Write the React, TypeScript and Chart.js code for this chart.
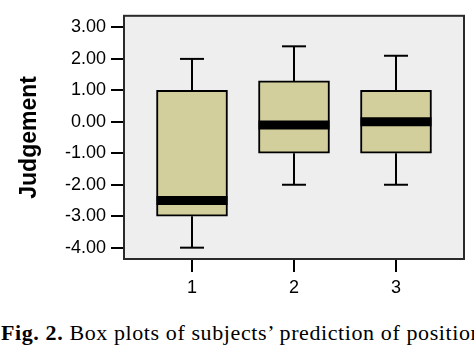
import React, { useEffect, useRef } from "react";
import { Chart, registerables } from "chart.js";

Chart.register(...registerables);

// ---- data ----
const categories = [1, 2, 3];
const whiskerLow = [-4.0, -2.0, -2.0];
const quartile1 = [-3.0, -1.0, -1.0];
const medians = [-2.5, -0.1, 0.0];
const quartile3 = [1.0, 1.3, 1.0];
const whiskerHigh = [2.0, 2.4, 2.1];
const yTicks = [-4, -3, -2, -1, 0, 1, 2, 3];
const yTitle = "Judgement";
const caption = "Box plots of subjects’ prediction of position";
const captionLead = "Fig. 2.";

// ---- styles ----
const BOX_FILL = "#d3cf9c";
const PLOT_BG = "#eeeeee";
const FRAME = "#2a2a2a";
const TICK_FONT = { family: "'Liberation Sans', Arial, sans-serif", size: 18 };

const boxPlugin = {
  id: "boxplotExtras",
  beforeDatasetsDraw(chart: any) {
    const { ctx, chartArea: a } = chart;
    ctx.save();
    ctx.fillStyle = PLOT_BG;
    ctx.fillRect(a.left, a.top, a.right - a.left, a.bottom - a.top);
    ctx.restore();
  },
  afterDatasetsDraw(chart: any) {
    const { ctx, chartArea: a } = chart;
    const xs = chart.scales.x;
    const ys = chart.scales.y;
    const meta = chart.getDatasetMeta(0);
    const capHalf = 12;
    const seg = (x1: number, y1: number, x2: number, y2: number) => {
      ctx.beginPath();
      ctx.moveTo(x1, y1);
      ctx.lineTo(x2, y2);
      ctx.stroke();
    };
    ctx.save();
    ctx.strokeStyle = "#000";
    ctx.lineCap = "butt";
    categories.forEach((c, i) => {
      const cx = xs.getPixelForValue(c);
      const yHi = ys.getPixelForValue(whiskerHigh[i]);
      const yQ3 = ys.getPixelForValue(quartile3[i]);
      const yQ1 = ys.getPixelForValue(quartile1[i]);
      const yLo = ys.getPixelForValue(whiskerLow[i]);
      const yMed = ys.getPixelForValue(medians[i]);
      ctx.lineWidth = 2;
      seg(cx, yQ3, cx, yHi);
      seg(cx - capHalf, yHi, cx + capHalf, yHi);
      seg(cx, yQ1, cx, yLo);
      seg(cx - capHalf, yLo, cx + capHalf, yLo);
      const bar = meta.data[i];
      const half = bar ? bar.width / 2 : 35;
      ctx.lineWidth = 9;
      seg(cx - half, yMed, cx + half, yMed);
    });
    ctx.lineWidth = 2;
    ctx.strokeStyle = FRAME;
    ctx.strokeRect(a.left, a.top, a.right - a.left, a.bottom - a.top);
    ctx.restore();
  },
};

export default function App() {
  const ref = useRef<HTMLCanvasElement | null>(null);

  useEffect(() => {
    if (!ref.current) return;
    const chart = new Chart(ref.current, {
      type: "bar",
      data: {
        datasets: [
          {
            data: categories.map((c, i) => ({ x: c, y: [quartile1[i], quartile3[i]] })) as any,
            backgroundColor: BOX_FILL,
            borderColor: "#000",
            borderWidth: 2,
            borderSkipped: false,
            barThickness: 71,
          },
        ],
      },
      options: {
        animation: false,
        responsive: false,
        devicePixelRatio: 1,
        layout: { padding: { top: 9, right: 10, left: 0, bottom: 0 } },
        plugins: { legend: { display: false }, tooltip: { enabled: false } },
        scales: {
          x: {
            type: "linear",
            min: 1 / 3,
            max: 11 / 3,
            offset: false,
            afterBuildTicks: (s: any) => {
              s.ticks = categories.map((v) => ({ value: v }));
            },
            afterFit: (s: any) => {
              s.height = 41;
            },
            grid: {
              offset: false,
              drawOnChartArea: false,
              drawTicks: true,
              tickLength: 13,
              tickWidth: 2,
              tickColor: "#000",
              lineWidth: 2,
              color: "#000",
            },
            border: { display: false },
            ticks: {
              color: "#000",
              font: TICK_FONT,
              padding: 5,
              autoSkip: false,
              maxRotation: 0,
              callback: (v: any) => String(v),
            },
          },
          y: {
            type: "linear",
            min: -4.36,
            max: 3.37,
            afterBuildTicks: (s: any) => {
              s.ticks = yTicks.map((v) => ({ value: v }));
            },
            afterFit: (s: any) => {
              s.width = 124;
            },
            grid: {
              drawOnChartArea: false,
              drawTicks: true,
              tickLength: 13,
              tickWidth: 2,
              tickColor: "#000",
              lineWidth: 2,
              color: "#000",
            },
            border: { display: false },
            ticks: {
              color: "#000",
              font: TICK_FONT,
              padding: 5,
              autoSkip: false,
              callback: (v: any) => Number(v).toFixed(2),
            },
            title: {
              display: true,
              text: yTitle,
              color: "#000",
              font: { family: "'Liberation Sans', Arial, sans-serif", size: 23, weight: "bold" },
              padding: { top: 16, bottom: 0 },
            },
          },
        },
      },
      plugins: [boxPlugin],
    });
    return () => chart.destroy();
  }, []);

  return (
    <div
      style={{
        position: "absolute",
        left: 0,
        top: 0,
        width: 474,
        height: 354,
        overflow: "hidden",
        background: "#fff",
      }}
    >
      <canvas ref={ref} width={474} height={300} style={{ display: "block", width: 474, height: 300 }} />
      <div
        style={{
          position: "absolute",
          left: 1,
          top: 320,
          fontFamily: "'Liberation Serif', 'Times New Roman', serif",
          fontSize: 22,
          letterSpacing: "0.6px",
          whiteSpace: "nowrap",
          color: "#000",
        }}
      >
        <b>{captionLead}</b> {caption}
      </div>
    </div>
  );
}
